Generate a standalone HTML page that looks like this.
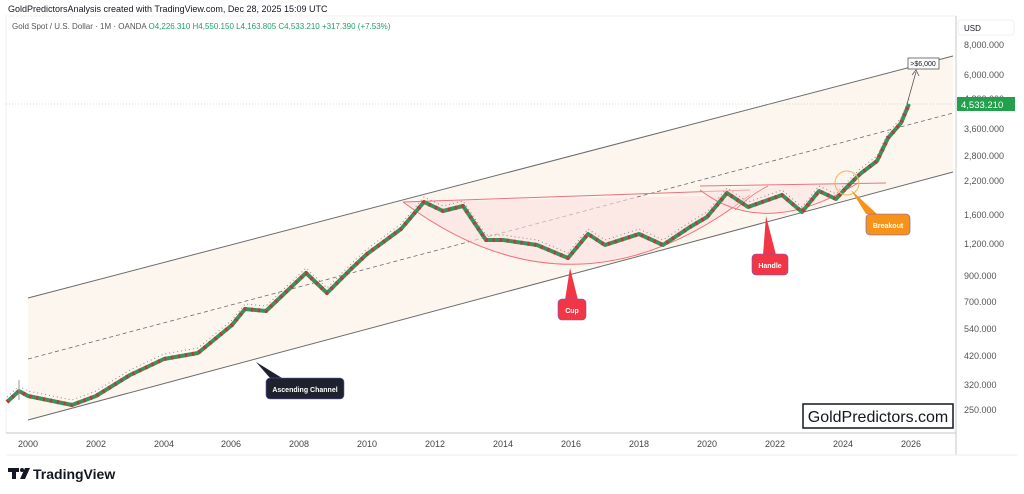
<!DOCTYPE html>
<html><head><meta charset="utf-8"><style>
html,body{margin:0;padding:0;background:#fff;width:1024px;height:494px;overflow:hidden;font-family:"Liberation Sans",sans-serif}
</style></head><body>
<svg width="1024" height="494" xmlns="http://www.w3.org/2000/svg" font-family="Liberation Sans, sans-serif">
<rect width="1024" height="494" fill="#fff"/>
<text x="8" y="12" font-size="9" fill="#131722">GoldPredictorsAnalysis created with TradingView.com, Dec 28, 2025 15:09 UTC</text>
<rect x="6" y="16" width="950" height="417" fill="#fff" stroke="#e6e6e6" stroke-width="0.5"/>
<text x="12" y="29" font-size="8" fill="#555">Gold Spot / U.S. Dollar · 1M · OANDA <tspan fill="#22a06b">O4,226.310  H4,550.150  L4,163.805  C4,533.210  +317.390 (+7.53%)</tspan></text>
<polygon points="28,298 953,56 953,172 28,420" fill="#fdf5ec" opacity="0.9"/>
<line x1="28" y1="298" x2="953" y2="56" stroke="#6b6b6b" stroke-width="1"/>
<line x1="28" y1="420" x2="953" y2="172" stroke="#6b6b6b" stroke-width="1"/>
<line x1="28" y1="359" x2="953" y2="113" stroke="#6b6b6b" stroke-width="0.8" stroke-dasharray="4,3"/>
<path d="M403,202 Q575,330 750,195 L403,202 Z" fill="#fbe0e0" opacity="0.6"/>
<path d="M403,202 Q575,330 750,195" fill="none" stroke="#f0707a" stroke-width="1"/>
<line x1="403" y1="202" x2="750" y2="190" stroke="#f0707a" stroke-width="1"/>
<path d="M700,190 Q765,240 858,183 Z" fill="#fbe0e0" opacity="0.5"/>
<path d="M700,190 Q765,240 858,183" fill="none" stroke="#f0707a" stroke-width="1"/>
<line x1="700" y1="186" x2="886" y2="183" stroke="#f0707a" stroke-width="1"/>
<path d="M735,210 Q750,195 768,186" fill="none" stroke="#f0707a" stroke-width="0.8"/>
<line x1="6" y1="104" x2="956" y2="104" stroke="#9cc79c" stroke-width="0.6" stroke-dasharray="1,2"/>
<!-- price series -->
<g fill="none" stroke-linejoin="round">
<polyline stroke="#3d8f5f" stroke-width="4" points="7,402 19,391 28,396 72,405 96,396 130,375 164,359 198,353 232,325 245,309 266,311 306,273 327,293 351,269 367,254 401,229 424,202 443,211 463,206 486,240 503,240 537,245 568,258 588,234 605,245 639,234 663,245 690,227 707,217 727,193 748,207 782,195 802,212 819,191 836,199 846,188 860,174 877,161 888,138 901,123 909,104"/>
<polyline stroke="#c0392b" stroke-width="4" stroke-dasharray="2,5" points="7,402 19,391 28,396 72,405 96,396 130,375 164,359 198,353 232,325 245,309 266,311 306,273 327,293 351,269 367,254 401,229 424,202 443,211 463,206 486,240 503,240 537,245 568,258 588,234 605,245 639,234 663,245 690,227 707,217 727,193 748,207 782,195 802,212 819,191 836,199 846,188 860,174 877,161 888,138 901,123 909,104"/>
<polyline stroke="#888" stroke-width="1" stroke-dasharray="1,3" transform="translate(0,-5)" points="7,402 19,391 28,396 72,405 96,396 130,375 164,359 198,353 232,325 245,309 266,311 306,273 327,293 351,269 367,254 401,229 424,202 443,211 463,206 486,240 503,240 537,245 568,258 588,234 605,245 639,234 663,245 690,227 707,217 727,193 748,207 782,195 802,212 819,191 836,199 846,188 860,174 877,161 888,138 901,123 909,104"/>
<line x1="19" y1="380" x2="19" y2="400" stroke="#999"/>
</g>
<circle cx="847" cy="183" r="12" fill="none" stroke="#f7b25a" stroke-width="1"/>
<polygon points="256,362 270,378 282,378" fill="#1e222d"/>
<rect x="266" y="378" width="78" height="21" rx="4" fill="#1e222d" stroke="#6a5acd" stroke-width="0.6"/>
<text x="305" y="392" font-size="7" fill="#fff" text-anchor="middle" font-weight="bold">Ascending Channel</text>
<polygon points="570,268 565,300 578,300" fill="#f23645"/>
<rect x="558" y="299" width="28" height="21" rx="4" fill="#f23645" stroke="#6a5acd" stroke-width="0.6"/>
<text x="572" y="313" font-size="7" fill="#fff" text-anchor="middle" font-weight="bold">Cup</text>
<polygon points="766,216 763,255 776,255" fill="#f23645"/>
<rect x="752" y="254" width="36" height="21" rx="4" fill="#f23645" stroke="#6a5acd" stroke-width="0.6"/>
<text x="770" y="268" font-size="7" fill="#fff" text-anchor="middle" font-weight="bold">Handle</text>
<polygon points="851,190 866,214 877,214" fill="#f7931a"/>
<rect x="866" y="214" width="44" height="21" rx="4" fill="#f7931a" stroke="#6a5acd" stroke-width="0.6"/>
<text x="888" y="228" font-size="7" fill="#fff" text-anchor="middle" font-weight="bold">Breakout</text>
<line x1="907" y1="104" x2="916" y2="72" stroke="#555" stroke-width="0.8"/>
<polyline points="912,75 916,70 919,76" fill="none" stroke="#555" stroke-width="0.8"/>
<rect x="908" y="58" width="31" height="11" fill="#fff" stroke="#555" stroke-width="0.8"/>
<text x="923" y="66" font-size="7" fill="#131722" text-anchor="middle">&gt;$6,000</text>
<rect x="803" y="404" width="150" height="24" fill="#fff" stroke="#131722" stroke-width="1.5"/>
<text x="878" y="422" font-size="16" fill="#131722" text-anchor="middle">GoldPredictors.com</text>
<line x1="6" y1="433" x2="956" y2="433" stroke="#c8c8c8" stroke-width="1"/>
<line x1="956" y1="16" x2="956" y2="455" stroke="#c8c8c8" stroke-width="1"/>
<rect x="958" y="20" width="56" height="15" rx="3" fill="#fff" stroke="#f0f0f0"/>
<text x="964" y="31" font-size="8" fill="#131722">USD</text>
<g font-size="9" fill="#555">
<text x="964" y="48">8,000.000</text><text x="964" y="78">6,000.000</text><text x="964" y="102">4,800.000</text>
<text x="964" y="132">3,600.000</text><text x="964" y="159">2,800.000</text><text x="964" y="184">2,200.000</text>
<text x="964" y="218">1,600.000</text><text x="964" y="247">1,200.000</text><text x="964" y="279">900.000</text>
<text x="964" y="305">700.000</text><text x="964" y="332">540.000</text><text x="964" y="359">420.000</text>
<text x="964" y="388">320.000</text><text x="964" y="413">250.000</text>
</g>
<rect x="957" y="97" width="58" height="14" fill="#22a04b"/>
<text x="961" y="108" font-size="9.5" fill="#fff">4,533.210</text>
<g font-size="9" fill="#444" text-anchor="middle">
<text x="28" y="447">2000</text><text x="96" y="447">2002</text><text x="164" y="447">2004</text><text x="231" y="447">2006</text>
<text x="299" y="447">2008</text><text x="367" y="447">2010</text><text x="435" y="447">2012</text><text x="503" y="447">2014</text>
<text x="571" y="447">2016</text><text x="639" y="447">2018</text><text x="707" y="447">2020</text><text x="775" y="447">2022</text>
<text x="843" y="447">2024</text><text x="911" y="447">2026</text>
</g>
<line x1="6" y1="455" x2="1018" y2="455" stroke="#eee"/>
<g fill="#131722"><rect x="8" y="468" width="11" height="4"/><rect x="12" y="468" width="4" height="11"/><circle cx="22" cy="470" r="2"/><polygon points="25,468 30,468 25,479 20,479"/></g>
<text x="33" y="479" font-size="14" font-weight="bold" fill="#131722">TradingView</text>
</svg>
</body></html>
